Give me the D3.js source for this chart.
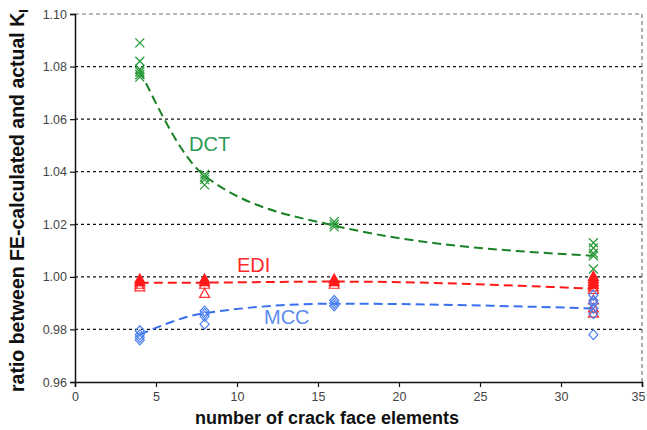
<!DOCTYPE html>
<html><head><meta charset="utf-8">
<script src="https://cdn.jsdelivr.net/npm/d3@7"></script>
<style>body{margin:0;background:#fff}svg{display:block}</style>
</head><body>
<svg id="c" width="647" height="430"></svg>
<script>
const xTicks = [0,5,10,15,20,25,30,35];
const yTicks = [0.96,0.98,1.00,1.02,1.04,1.06,1.08,1.10];

const elements = [4, 8, 16, 32];

// scatter points (x value, ratio)
const dctPoints = [
  [4,1.089],[4,1.082],[4,1.079],[4,1.078],[4,1.077],[4,1.076],
  [8,1.039],[8,1.038],[8,1.037],[8,1.035],
  [16,1.021],[16,1.020],[16,1.019],
  [32,1.013],[32,1.011],[32,1.009],[32,1.008],[32,1.003]
];
const ediFilled = [
  [4,0.999],[4,0.998],[8,0.999],[8,0.998],[16,0.999],[16,0.998],
  [32,1.000],[32,0.999],[32,0.998],[32,0.997]
];
const ediOpen = [
  [4,0.997],[4,0.996],[8,0.997],[8,0.9935],[16,0.997],
  [32,0.996],[32,0.995],[32,0.991],[32,0.988],[32,0.986]
];
const mccPoints = [
  [4,0.9795],[4,0.978],[4,0.977],[4,0.976],
  [8,0.987],[8,0.986],[8,0.985],[8,0.982],
  [16,0.991],[16,0.990],[16,0.989],
  [32,0.993],[32,0.991],[32,0.990],[32,0.988],[32,0.986],[32,0.978]
];

// trend lines read at each element count
const dctFit = [1.0785, 1.0385, 1.0195, 1.0080];
const ediFit = [0.9977, 0.9978, 0.9982, 0.9955];
const mccFit = [0.9780, 0.9862, 0.9898, 0.9880];

const svg = d3.select("#c");
const L = 75, R = 642, T = 14, B = 382;
const x = d3.scaleLinear().domain([0,35]).range([L,R]);
const y = d3.scaleLinear().domain([0.96,1.10]).range([B,T]);
const FONT = "Liberation Sans, Arial, sans-serif";

// gridlines
svg.append("g").selectAll("line").data(yTicks.filter(v => v > 0.96 && v < 1.1)).join("line")
  .attr("x1", L).attr("x2", R).attr("y1", d => y(d)).attr("y2", d => y(d))
  .attr("stroke", "#111").attr("stroke-width", 1.2).attr("stroke-dasharray", "3,3");
// top & right borders
svg.append("path").attr("d", `M${L},${y(1.10)}H${R}V${B}`)
  .attr("fill","none").attr("stroke","#777").attr("stroke-width",1.2).attr("stroke-dasharray","4,3");

// axes
const yAxis = d3.axisLeft(y).tickValues(yTicks).tickFormat(d3.format(".2f")).tickSize(5).tickPadding(3);
const gy = svg.append("g").attr("transform", `translate(${L},0)`).call(yAxis);
const xAxis = d3.axisBottom(x).tickValues(xTicks).tickFormat(d3.format("d")).tickSize(5).tickPadding(5);
const gx = svg.append("g").attr("transform", `translate(0,${B})`).call(xAxis);
[gx, gy].forEach(g => {
  g.select(".domain").attr("stroke","#111").attr("stroke-width",1.5);
  g.selectAll(".tick line").attr("stroke","#111").attr("stroke-width",1.2);
  g.selectAll(".tick text").attr("fill","#444").style("font-family",FONT).style("font-size","12.5px");
});
gx.selectAll(".tick text").filter(d => d === 35).attr("dx", -4);

// trend lines
const line = d3.line().x(d => x(d[0])).y(d => y(d[1])).curve(d3.curveMonotoneX);
const fits = [[dctFit,"#1a8226"],[ediFit,"#ff1a1a"],[mccFit,"#3a6ff0"]];
fits.forEach(([f,c]) => {
  svg.append("path").datum(elements.map((e,i) => [e, f[i]])).attr("d", line)
    .attr("fill","none").attr("stroke",c).attr("stroke-width",2).attr("stroke-dasharray","9,5");
});

// markers
const s = 4.5;
svg.append("g").selectAll("path").data(dctPoints).join("path")
  .attr("transform", d => `translate(${x(d[0])},${y(d[1])})`)
  .attr("d", `M${-s},${-s}L${s},${s}M${-s},${s}L${s},${-s}`)
  .attr("stroke","#2a9a3a").attr("stroke-width",1.3).attr("fill","none");
const tri = `M0,${-5.5}L${5},${3.5}L${-5},${3.5}Z`;
svg.append("g").selectAll("path").data(ediOpen).join("path")
  .attr("transform", d => `translate(${x(d[0])},${y(d[1])})`)
  .attr("d", tri).attr("stroke","#ff2a2a").attr("stroke-width",1.2).attr("fill","none");
svg.append("g").selectAll("path").data(ediFilled).join("path")
  .attr("transform", d => `translate(${x(d[0])},${y(d[1])})`)
  .attr("d", tri).attr("stroke","#ff1a1a").attr("stroke-width",1.2).attr("fill","#ff1a1a");
const dia = `M0,-5L4.5,0L0,5L-4.5,0Z`;
svg.append("g").selectAll("path").data(mccPoints).join("path")
  .attr("transform", d => `translate(${x(d[0])},${y(d[1])})`)
  .attr("d", dia).attr("stroke","#4a80f0").attr("stroke-width",1.2).attr("fill","none");

// series labels
const lab = (t, xx, yy, c) => svg.append("text").attr("x", xx).attr("y", yy).text(t)
  .attr("fill", c).style("font-family",FONT).style("font-size","20px");
lab("DCT", 189, 151, "#2a9a55");
lab("EDI", 237, 272, "#ff2a2a");
lab("MCC", 264, 324, "#5a8cf0");

// axis titles
svg.append("text").attr("x", 327).attr("y", 424).attr("text-anchor","middle")
  .text("number of crack face elements")
  .style("font-family",FONT).style("font-size","18px").style("font-weight","bold").attr("fill","#111");
const yt = svg.append("text").attr("transform","translate(24,392) rotate(-90)")
  .style("font-family",FONT).style("font-size","19.5px").style("font-weight","bold").attr("fill","#111");
yt.append("tspan").text("ratio between FE-calculated and actual K");
yt.append("tspan").attr("dy", 4).style("font-size","13px").text("I");
</script>
</body></html>
